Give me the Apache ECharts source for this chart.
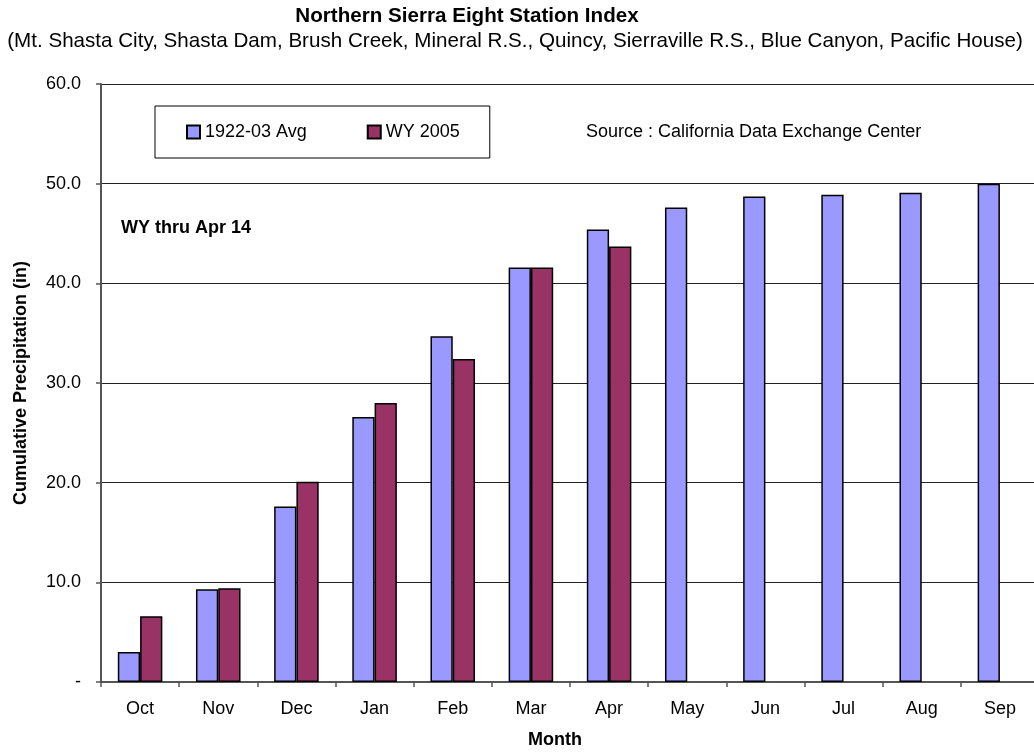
<!DOCTYPE html>
<html>
<head>
<meta charset="utf-8">
<script src="https://cdn.jsdelivr.net/npm/echarts@6/dist/echarts.min.js"></script>
<style>
  html, body { margin: 0; padding: 0; background: #fff; }
  #chart { width: 1034px; height: 755px; }
</style>
</head>
<body>
<div id="chart"></div>
<script>
const months = ['Oct', 'Nov', 'Dec', 'Jan', 'Feb', 'Mar', 'Apr', 'May', 'Jun', 'Jul', 'Aug', 'Sep'];
const avgValues = [3.0, 9.3, 17.6, 26.6, 34.7, 41.6, 45.4, 47.6, 48.7, 48.9, 49.1, 50.0];
const wy2005Values = [6.6, 9.4, 20.1, 28.0, 32.4, 41.6, 43.7, null, null, null, null, null];
const yTickLabels = ['-', '10.0', '20.0', '30.0', '40.0', '50.0', '60.0'];
const seriesNames = ['1922-03 Avg', 'WY 2005'];

const FONT = "'Liberation Sans', Arial, sans-serif";
const chart = echarts.init(document.getElementById('chart'), null, { renderer: 'canvas' });

chart.setOption({
  animation: false,
  backgroundColor: '#ffffff',
  textStyle: { fontFamily: FONT },
  grid: { left: 101, top: 84, width: 938, height: 598, containLabel: false, outerBoundsMode: 'none' },
  legend: {
    left: 155, top: 106,
    orient: 'horizontal',
    data: seriesNames,
    icon: 'rect',
    itemWidth: 13, itemHeight: 13,
    itemGap: 60,
    padding: [17, 30, 17, 31],
    borderColor: '#000', borderWidth: 1,
    textStyle: { fontFamily: FONT, fontSize: 18, color: '#000' }
  },
  xAxis: {
    type: 'category',
    data: months,
    axisLine: { lineStyle: { color: '#555', width: 2 } },
    axisTick: { show: true, alignWithLabel: false, interval: 0, length: 5, lineStyle: { color: '#555', width: 1.5 } },
    axisLabel: { interval: 0, margin: 18, fontSize: 18, color: '#000', fontFamily: FONT }
  },
  yAxis: {
    type: 'value',
    min: 0, max: 60, interval: 10,
    axisLine: { show: true, lineStyle: { color: '#555', width: 2 } },
    axisTick: { show: true, length: 5, lineStyle: { color: '#555', width: 1.5 } },
    axisLabel: {
      margin: 20, fontSize: 18, color: '#000', fontFamily: FONT,
      formatter: function (v) { return yTickLabels[Math.round(v / 10)]; }
    },
    splitLine: { show: true, lineStyle: { color: '#222', width: 1 } },
    name: 'Cumulative Precipitation (in)',
    nameLocation: 'middle',
    nameGap: 71,
    nameRotate: 90,
    nameTextStyle: { fontSize: 18, fontWeight: 'bold', color: '#000', fontFamily: FONT }
  },
  series: [
    {
      name: seriesNames[0], type: 'bar', data: avgValues,
      barGap: '0%', barCategoryGap: '43%',
      itemStyle: { color: '#9999FF', borderColor: '#000', borderWidth: 1.5 }
    },
    {
      name: seriesNames[1], type: 'bar', data: wy2005Values,
      barGap: '0%', barCategoryGap: '43%',
      itemStyle: { color: '#993366', borderColor: '#000', borderWidth: 1.5 }
    }
  ],
  graphic: [
    { type: 'text', x: 467, y: 16, style: { text: 'Northern Sierra Eight Station Index', font: "bold 20.6px 'Liberation Sans', Arial, sans-serif", fill: '#000', textAlign: 'center', textVerticalAlign: 'middle' } },
    { type: 'text', x: 515, y: 41, style: { text: '(Mt. Shasta City, Shasta Dam, Brush Creek, Mineral R.S., Quincy, Sierraville R.S., Blue Canyon, Pacific House)', font: "20.6px 'Liberation Sans', Arial, sans-serif", fill: '#000', textAlign: 'center', textVerticalAlign: 'middle' } },
    { type: 'text', x: 586, y: 132, style: { text: 'Source : California Data Exchange Center', font: "18px 'Liberation Sans', Arial, sans-serif", fill: '#000', textAlign: 'left', textVerticalAlign: 'middle' } },
    { type: 'text', x: 121, y: 228, style: { text: 'WY thru Apr 14', font: "bold 18px 'Liberation Sans', Arial, sans-serif", fill: '#000', textAlign: 'left', textVerticalAlign: 'middle' } },
    { type: 'text', x: 555, y: 740, style: { text: 'Month', font: "bold 18px 'Liberation Sans', Arial, sans-serif", fill: '#000', textAlign: 'center', textVerticalAlign: 'middle' } }
  ]
});
</script>
</body>
</html>
